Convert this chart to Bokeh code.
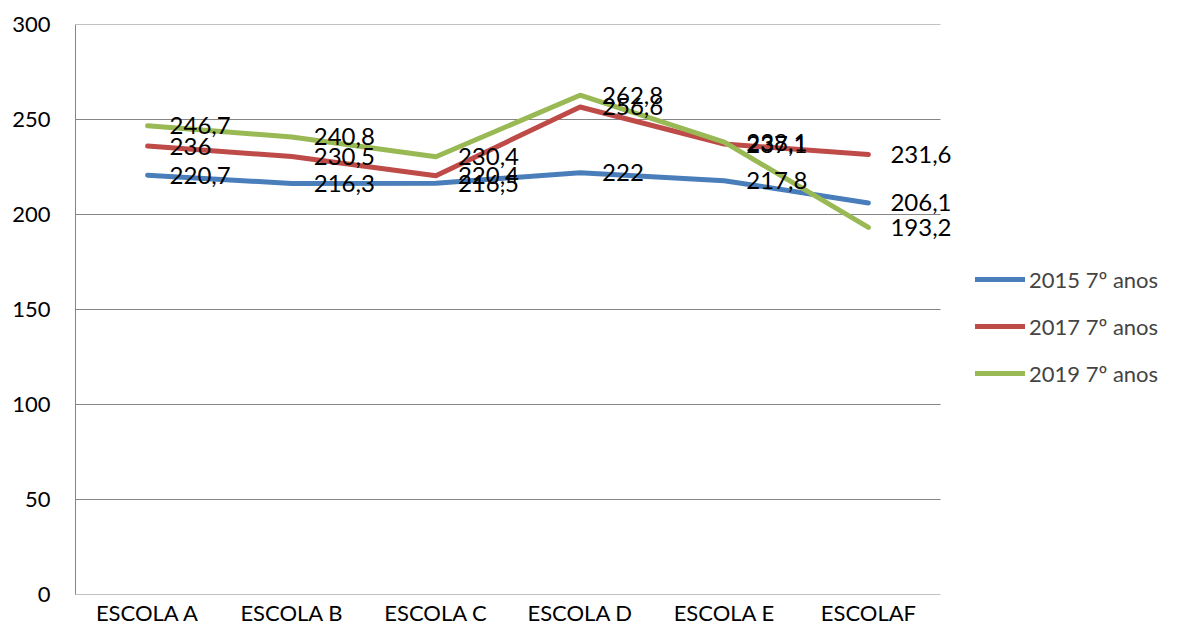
from bokeh.plotting import figure
from bokeh.models import ColumnDataSource, LabelSet, Legend, LegendItem, Range1d, FixedTicker
from bokeh.core.properties import value
from bokeh.embed import file_html
from bokeh.resources import INLINE

escolas = ["ESCOLA A", "ESCOLA B", "ESCOLA C", "ESCOLA D", "ESCOLA E", "ESCOLAF"]
s2015 = [220.7, 216.3, 216.5, 222.0, 217.8, 206.1]
s2017 = [236.0, 230.5, 220.4, 256.6, 237.1, 231.6]
s2019 = [246.7, 240.8, 230.4, 262.8, 238.1, 193.2]
series_names = ["2015 7º anos", "2017 7º anos", "2019 7º anos"]
colors = ["#4A7EBB", "#BE4B48", "#98B954"]
y_ticks = [0, 50, 100, 150, 200, 250, 300]

FONT = "Lato"
GRID = "#868686"

def fmt(v):
    s = ("%.1f" % v).rstrip("0").rstrip(".")
    return s.replace(".", ",")

xpos = list(range(1, len(escolas) + 1))
x_lo = 0.5
x_hi = len(escolas) + 0.5
# frame extends to the right to hold the legend; the plot area proper is 0.5..6.5
W, H = 1165, 628
left = 75
frame_w = W - left
unit = 865.0 / len(escolas)
x_end = x_lo + frame_w / unit

p = figure(width=W, height=H, x_range=Range1d(x_lo, x_end), y_range=Range1d(0, 300),
           output_backend="svg", toolbar_location=None,
           min_border_left=left, min_border_right=0, min_border_top=24, min_border_bottom=0)
p.outline_line_color = None
p.background_fill_color = "white"
p.border_fill_color = "white"
p.xgrid.grid_line_color = None
p.ygrid.grid_line_color = None

p.xaxis.ticker = FixedTicker(ticks=xpos)
p.xaxis.major_label_overrides = {x: n for x, n in zip(xpos, escolas)}
p.yaxis.ticker = FixedTicker(ticks=y_ticks)

for ax in (p.xaxis[0], p.yaxis[0]):
    ax.axis_line_color = GRID
    ax.axis_line_width = 1
    ax.major_tick_line_color = None
    ax.minor_tick_line_color = None
    ax.major_tick_out = 0
    ax.major_tick_in = 0
    ax.major_label_text_font = FONT
    ax.major_label_text_color = "black"
p.xaxis.axis_line_color = None
p.yaxis.major_label_text_font_size = "22px"
p.yaxis.major_label_standoff = 25
p.xaxis.major_label_text_font_size = "22px"
p.xaxis.major_label_standoff = 4

# horizontal gridlines limited to the plot area
p.segment(x0=[x_lo] * len(y_ticks), x1=[x_hi] * len(y_ticks), y0=y_ticks, y1=y_ticks,
          line_color=GRID, line_width=1)

items = []
for name, vals, col in zip(series_names, [s2015, s2017, s2019], colors):
    src = ColumnDataSource(dict(x=xpos, y=vals, lab=[fmt(v) for v in vals]))
    r = p.line("x", "y", source=src, line_color=col, line_width=5, line_join="round", line_cap="round")
    items.append(LegendItem(label=name, renderers=[r]))
    p.add_layout(LabelSet(x="x", y="y", text="lab", source=src, x_offset=22, y_offset=0,
                          text_baseline="middle", text_align="left",
                          text_font=value(FONT), text_font_size=value("24px"), text_color="black"))

legend = Legend(items=items, location=(900, 207), orientation="vertical",
                glyph_width=50, glyph_height=28, label_height=28, spacing=19,
                label_standoff=4, padding=0, margin=0,
                label_text_font=FONT, label_text_font_size="22px",
                border_line_color=None, background_fill_alpha=0)
p.add_layout(legend, "center")

open("out.html", "w").write(file_html(p, INLINE))
